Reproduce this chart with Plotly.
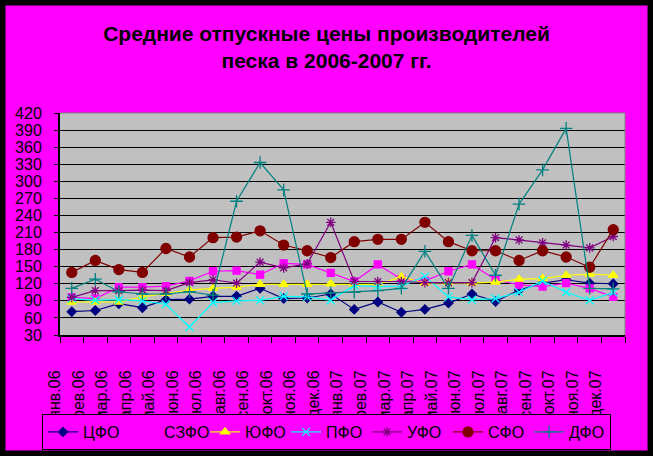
import plotly.graph_objects as go

months = ["янв.06", "фев.06", "мар.06", "апр.06", "май.06", "июн.06", "июл.06", "авг.06",
          "сен.06", "окт.06", "ноя.06", "дек.06", "янв.07", "фев.07", "мар.07", "апр.07",
          "май.07", "июн.07", "июл.07", "авг.07", "сен.07", "окт.07", "ноя.07", "дек.07"]

cfo = [71, 73, 85, 78, 92, 93, 98, 98, 112, 94, 95, 102, 75, 88, 70, 75, 86, 102, 89, 109, 121, 127, 121, 120]
szfo = [96, 94, 114, 114, 116, 125, 142, 143, 136, 156, 154, 139, 124, 154, 128, 125, 142, 154, 127, 118, 115, 121, 112, 97]
yufo = [88, 88, 88, 97, 103, 109, 112, 114, 119, 119, 119, 120, 119, 119, 132, 121, 122, 121, 123, 128, 129, 135, 137, 135]
pfo = [94, 91, 92, 90, 84, 44, 87, 90, 91, 98, 97, 91, 117, 115, 116, 133, 97, 92, 94, 105, 125, 105, 91, 105]
ufo = [96, 108, 108, 109, 108, 122, 127, 121, 158, 148, 155, 228, 124, 124, 124, 122, 122, 122, 201, 197, 192, 188, 183, 203]
sfo = [140, 161, 145, 140, 182, 167, 201, 202, 213, 188, 178, 166, 194, 198, 198, 228, 194, 178, 178, 161, 178, 167, 149, 215]
dfo = [112, 128, 106, 102, 102, 106, 100, 265, 333, 285, 102, 104, 105, 108, 112, 177, 112, 205, 135, 260, 320, 393, 112, 111]

series = [
    ("ЦФО", cfo, "#000080", "diamond", 7),
    ("СЗФО", szfo, "#FF00FF", "square", 7),
    ("ЮФО", yufo, "#FFFF00", "triangle-up", 8),
    ("ПФО", pfo, "#00FFFF", "x-thin-open", 8),
    ("УФО", ufo, "#800080", "asterisk-open", 8),
    ("СФО", sfo, "#800000", "circle", 10),
    ("ДФО", dfo, "#008080", "cross-thin-open", 9),
]

FONT = "Arial, Liberation Sans, sans-serif"

fig = go.Figure()
for name, vals, color, sym, sz in series:
    fig.add_trace(go.Scatter(
        x=months, y=vals, name=name, mode="lines+markers",
        line=dict(color=color, width=1.2),
        marker=dict(color=color, symbol=sym, size=sz, line=dict(color=color, width=1.3)),
    ))

W, H = 653, 456
L, R, T, B = 60, 28, 113, 121
pw, ph = W - L - R, H - T - B

def px(x):
    return (x - L) / pw

def py(y):
    return (H - B - y) / ph

shapes = [
    # outer black frame
    dict(type="rect", xref="paper", yref="paper", x0=px(0), x1=px(W), y0=py(H), y1=py(0),
         line=dict(color="black", width=11), fillcolor="rgba(0,0,0,0)", layer="above"),
    # gray plot border (top and right)
    dict(type="line", xref="paper", yref="paper", x0=0, x1=1, y0=1, y1=1,
         line=dict(color="#808080", width=1), layer="above"),
    dict(type="line", xref="paper", yref="paper", x0=1, x1=1, y0=0, y1=1,
         line=dict(color="#808080", width=1), layer="above"),
]

fig.update_layout(
    width=W, height=H,
    margin=dict(l=L, r=R, t=T, b=B, pad=0, autoexpand=False),
    paper_bgcolor="#FF00FF",
    plot_bgcolor="#C0C0C0",
    font=dict(family=FONT, color="black"),
    title=dict(
        text="<b>Средние отпускные цены производителей<br>песка в 2006-2007 гг.</b>",
        font=dict(family=FONT, size=21, color="black"),
        x=0.5, xref="container", xanchor="center",
        y=1 - 41 / H, yref="container", yanchor="top",
    ),
    xaxis=dict(
        type="category", range=[-0.5, 23.5],
        showline=True, linecolor="black", linewidth=2,
        ticks="outside", tickson="boundaries", ticklen=6, tickcolor="black", tickwidth=1,
        tickangle=-90, tickfont=dict(family=FONT, size=16, color="black"),
        ticklabelshift=-17, ticklabelstandoff=27,
        showgrid=False, automargin=False, fixedrange=True,
    ),
    yaxis=dict(
        range=[30, 420], tick0=30, dtick=30,
        showline=True, linecolor="black", linewidth=2,
        ticks="outside", ticklen=4, tickcolor="black", tickwidth=1,
        tickfont=dict(family=FONT, size=16, color="black"),
        ticklabelstandoff=9,
        showgrid=True, gridcolor="black", gridwidth=1,
        zeroline=False, automargin=False, fixedrange=True,
    ),
    legend=dict(
        orientation="h", xref="paper", yref="paper",
        x=px(42), xanchor="left", y=py(450), yanchor="bottom",
        bgcolor="#FF00FF", bordercolor="black", borderwidth=1,
        font=dict(family=FONT, size=16, color="black"),
        itemwidth=30, entrywidth=36, entrywidthmode="pixels",
    ),
    shapes=shapes,
    showlegend=True,
)

fig.write_html(
    "out.html",
    config={"displayModeBar": False},
    post_script="document.body.style.margin='0';document.body.style.overflow='hidden';",
)
